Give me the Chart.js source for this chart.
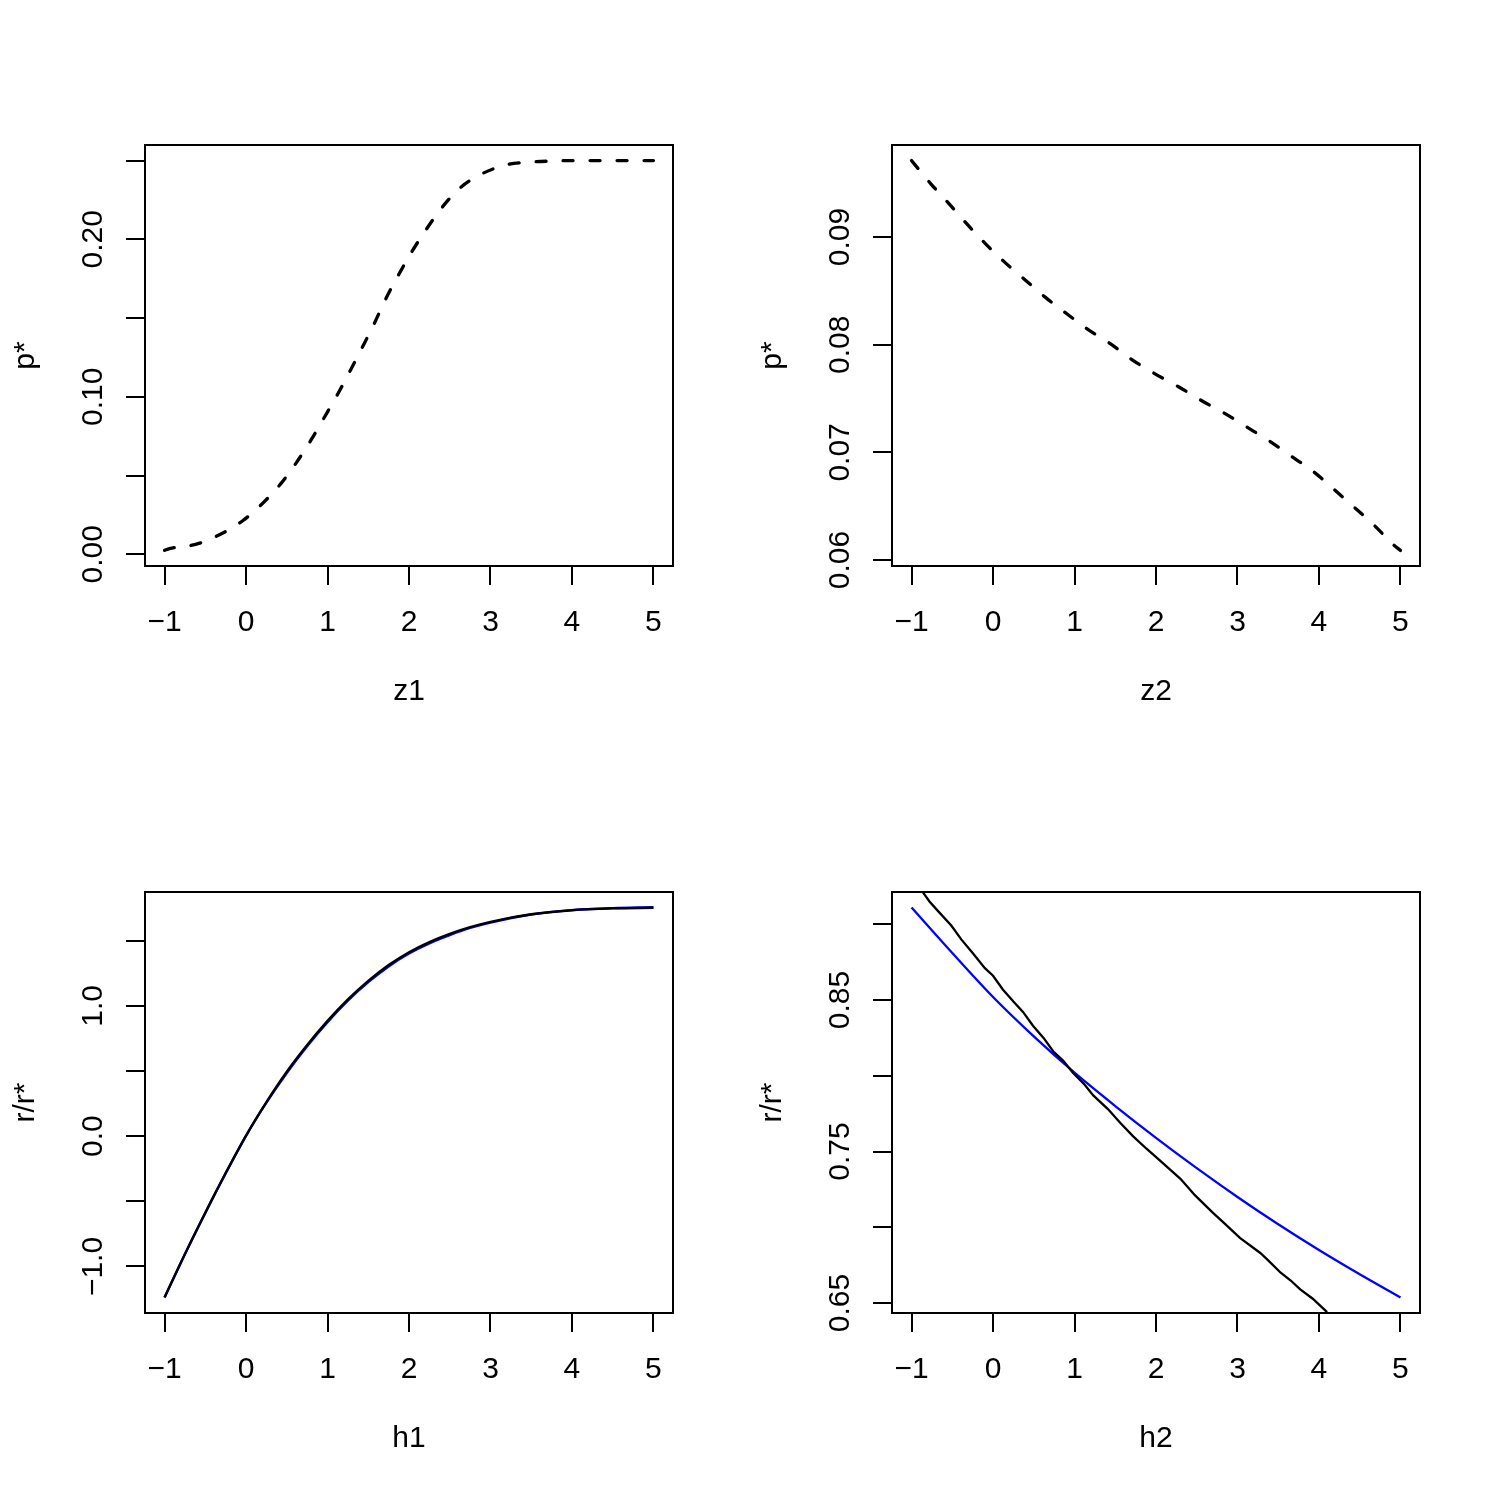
<!DOCTYPE html>
<html>
<head>
<meta charset="utf-8">
<script src="https://cdn.jsdelivr.net/npm/chart.js@4/dist/chart.umd.min.js"></script>
<style>
  html, body { margin: 0; padding: 0; background: #fff; }
  #wrap { position: relative; width: 1495px; height: 1495px; }
  .panel { position: absolute; width: 747px; height: 747px; }
</style>
</head>
<body>
<div id="wrap">
  <div class="panel" style="left:0;top:0"><canvas id="c1" width="747" height="747"></canvas></div>
  <div class="panel" style="left:747px;top:0"><canvas id="c2" width="747" height="747"></canvas></div>
  <div class="panel" style="left:0;top:747px"><canvas id="c3" width="747" height="747"></canvas></div>
  <div class="panel" style="left:747px;top:747px"><canvas id="c4" width="747" height="747"></canvas></div>
</div>
<script>
const FONT = "'Liberation Sans', Arial, Helvetica, sans-serif";
const FONT_PX = 30;

const xTicks = [-1, 0, 1, 2, 3, 4, 5];

// top left: p* against z1 (dashed)
const z1 = [-1, -0.94, -0.62, -0.315, -0.037, 0.21, 0.435, 0.62, 0.80, 0.967, 1.131, 1.283, 1.43, 1.574, 1.717, 1.869, 2.033, 2.209, 2.402, 2.627, 2.894, 3.209, 3.467, 3.75, 4, 4.5, 5];
const pStar1 = [0.0025, 0.0036, 0.0063, 0.0127, 0.0215, 0.0327, 0.0454, 0.0584, 0.0728, 0.0875, 0.1023, 0.1171, 0.1318, 0.1466, 0.1625, 0.1772, 0.192, 0.2061, 0.22, 0.2327, 0.2416, 0.2475, 0.249, 0.2497, 0.25, 0.25, 0.25];
const p1YTicks = [0, 0.05, 0.10, 0.15, 0.20, 0.25];
const p1YLabels = [[0, '0.00'], [0.10, '0.10'], [0.20, '0.20']];

// top right: p* against z2 (dashed)
const z2 = [-1, -0.758, -0.541, -0.307, -0.082, 0.152, 0.398, 0.643, 0.901, 1.168, 1.438, 1.708, 1.988, 2.275, 2.562, 2.848, 3.127, 3.402, 3.669, 3.935, 4.194, 4.449, 4.682, 4.918, 5];
const pStar2 = [0.0971, 0.0949, 0.0931, 0.0911, 0.0893, 0.0876, 0.0860, 0.0844, 0.0829, 0.0814, 0.0801, 0.0786, 0.0773, 0.0761, 0.0748, 0.0736, 0.0723, 0.0710, 0.0696, 0.0682, 0.0665, 0.0648, 0.0632, 0.0614, 0.0609];
const p2YTicks = [0.06, 0.07, 0.08, 0.09];
const p2YLabels = [[0.06, '0.06'], [0.07, '0.07'], [0.08, '0.08'], [0.09, '0.09']];

// bottom left: r/r* against h1, black and blue almost on top of each other
const h1 = [-1, -0.75, -0.5, -0.25, 0, 0.25, 0.5, 0.75, 1, 1.25, 1.5, 1.75, 2, 2.25, 2.5, 2.75, 3, 3.5, 4, 4.5, 5];
const ratio1Black = [-1.237, -0.904, -0.587, -0.283, 0.005, 0.262, 0.495, 0.700, 0.885, 1.050, 1.192, 1.313, 1.412, 1.490, 1.553, 1.604, 1.645, 1.703, 1.734, 1.748, 1.753];
const ratio1Blue = [-1.239, -0.906, -0.589, -0.285, 0.003, 0.257, 0.485, 0.690, 0.875, 1.040, 1.182, 1.303, 1.402, 1.480, 1.543, 1.598, 1.639, 1.701, 1.735, 1.750, 1.757];
const p3YTicks = [-1.0, -0.5, 0, 0.5, 1.0, 1.5];
const p3YLabels = [[-1.0, '\u22121.0'], [0, '0.0'], [1.0, '1.0']];

// bottom right: r/r* against h2, black runs off the plot region
const h2Black = [-0.86, -0.78, -0.68, -0.51, -0.39, -0.25, -0.10, 0, 0.12, 0.25, 0.37, 0.49, 0.62, 0.74, 0.86, 0.98, 1.11, 1.23, 1.41, 1.56, 1.72, 1.88, 2.05, 2.30, 2.48, 2.69, 2.83, 3.03, 3.28, 3.38, 3.53, 3.65, 3.77, 3.92, 4.10];
const ratio2Black = [0.921, 0.915, 0.909, 0.899, 0.890, 0.881, 0.871, 0.866, 0.857, 0.849, 0.842, 0.833, 0.825, 0.816, 0.810, 0.802, 0.795, 0.787, 0.778, 0.769, 0.760, 0.752, 0.744, 0.732, 0.721, 0.710, 0.703, 0.693, 0.683, 0.678, 0.670, 0.665, 0.659, 0.653, 0.644];
const h2Blue = [-1, -0.5, 0, 0.5, 1, 1.5, 2, 2.5, 3, 3.5, 4, 4.5, 5];
const ratio2Blue = [0.911, 0.881, 0.852, 0.826, 0.802, 0.780, 0.759, 0.739, 0.720, 0.702, 0.685, 0.669, 0.6537];
const p4YTicks = [0.65, 0.70, 0.75, 0.80, 0.85, 0.90];
const p4YLabels = [[0.65, '0.65'], [0.75, '0.75'], [0.85, '0.85']];

const pts = (xs, ys) => xs.map((x, i) => ({ x, y: ys[i] }));

const rBox = {
    id: 'rbox',
    afterDraw(chart, args, opts) {
        const { ctx, chartArea: a } = chart;
        const ys = chart.scales.y;
        ctx.save();
        ctx.strokeStyle = '#000';
        ctx.lineWidth = 2;
        ctx.strokeRect(a.left, a.top, a.right - a.left, a.bottom - a.top);
        ctx.fillStyle = '#000';
        ctx.font = `${FONT_PX}px ${FONT}`;
        ctx.textAlign = 'center';
        ctx.textBaseline = 'middle';
        (opts.labels || []).forEach(l => {
            ctx.save();
            ctx.translate(94, ys.getPixelForValue(l[0]));
            ctx.rotate(-Math.PI / 2);
            ctx.fillText(l[1], 0, 0);
            ctx.restore();
        });
        ctx.restore();
    }
};

function fmtX(v) {
    return v < 0 ? '\u2212' + Math.abs(v) : String(v);
}

function makePanel(id, datasets, xTitle, yTitle, yMin, yMax, yTicks, yLabels) {
    const tickGrid = {
        drawOnChartArea: false,
        drawTicks: true,
        tickLength: 19,
        tickWidth: 2,
        tickColor: '#000',
        lineWidth: 2,
        color: '#000'
    };
    return new Chart(document.getElementById(id), {
        type: 'scatter',
        data: { datasets },
        options: {
            responsive: false,
            animation: false,
            layout: { padding: { top: 145, right: 74, left: 0, bottom: 0 } },
            elements: { point: { radius: 0 } },
            scales: {
                x: {
                    type: 'linear',
                    min: -1.24,
                    max: 5.24,
                    afterBuildTicks: s => { s.ticks = xTicks.map(v => ({ value: v })); },
                    afterFit: s => { s.height = 181; },
                    grid: tickGrid,
                    border: { display: false },
                    ticks: {
                        autoSkip: false,
                        maxRotation: 0,
                        padding: 20,
                        color: '#000',
                        font: { family: FONT, size: FONT_PX },
                        callback: v => fmtX(v)
                    },
                    title: {
                        display: true,
                        text: xTitle,
                        color: '#000',
                        font: { family: FONT, size: FONT_PX },
                        padding: { top: 0, bottom: 37 }
                    }
                },
                y: {
                    type: 'linear',
                    min: yMin,
                    max: yMax,
                    afterBuildTicks: s => { s.ticks = yTicks.map(v => ({ value: v })); },
                    afterFit: s => { s.width = 145; },
                    grid: tickGrid,
                    border: { display: false },
                    ticks: { display: false },
                    title: {
                        display: true,
                        text: yTitle,
                        color: '#000',
                        font: { family: FONT, size: FONT_PX },
                        padding: { top: 8, bottom: 0 }
                    }
                }
            },
            plugins: {
                legend: { display: false },
                tooltip: { enabled: false },
                rbox: { labels: yLabels }
            }
        },
        plugins: [rBox]
    });
}

const dashed = {
    borderColor: '#000',
    borderWidth: 3.3,
    borderDash: [10, 17],
    borderCapStyle: 'round',
    showLine: true,
    cubicInterpolationMode: 'monotone'
};

makePanel('c1', [
    { ...dashed, label: 'p*', data: pts(z1, pStar1) }
], 'z1', 'p*', -0.0074, 0.2599, p1YTicks, p1YLabels);

makePanel('c2', [
    { ...dashed, label: 'p*', data: pts(z2, pStar2) }
], 'z2', 'p*', 0.05945, 0.09855, p2YTicks, p2YLabels);

makePanel('c3', [
    { label: 'black', data: pts(h1, ratio1Black), borderColor: '#000', borderWidth: 2.4, showLine: true, cubicInterpolationMode: 'monotone' },
    { label: 'blue', data: pts(h1, ratio1Blue), borderColor: '#0000ff', borderWidth: 2.4, showLine: true, cubicInterpolationMode: 'monotone' }
], 'h1', 'r/r*', -1.357, 1.874, p3YTicks, p3YLabels);

makePanel('c4', [
    { label: 'black', data: pts(h2Black, ratio2Black), borderColor: '#000', borderWidth: 2.3, showLine: true, tension: 0 },
    { label: 'blue', data: pts(h2Blue, ratio2Blue), borderColor: '#0000ff', borderWidth: 2.3, showLine: true, cubicInterpolationMode: 'monotone' }
], 'h2', 'r/r*', 0.6434, 0.9213, p4YTicks, p4YLabels);
</script>
</body>
</html>
